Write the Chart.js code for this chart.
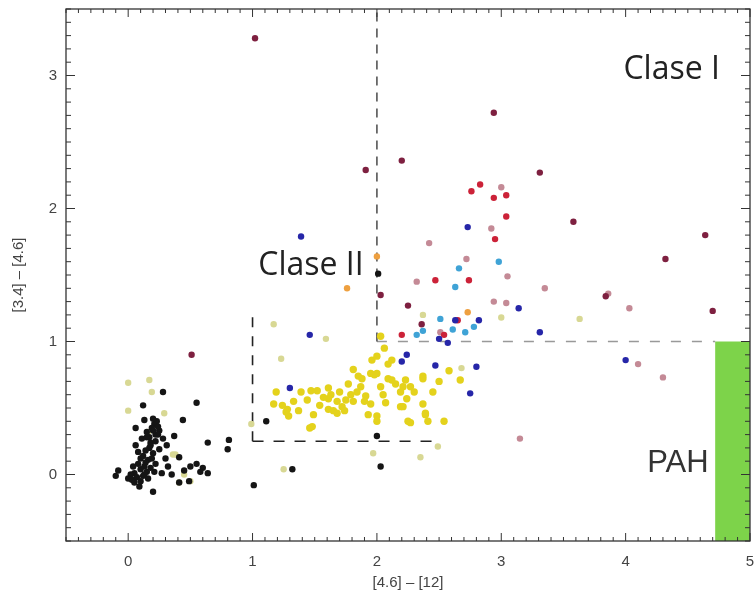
<!DOCTYPE html>
<html>
<head>
<meta charset="utf-8">
<script src="https://cdn.jsdelivr.net/npm/chart.js@4.4.1/dist/chart.umd.min.js"></script>
<style>
  html, body { margin: 0; padding: 0; background: #fff; }
</style>
</head>
<body>
<canvas id="myChart" width="754" height="601"></canvas>
<script>
// data: [4.6]-[12] , [3.4]-[4.6]
const blackStars = [
  [0.28,0.62],[0.12,0.52],[0.55,0.54],[0.44,0.41],[0.13,0.41],[0.06,0.35],[0.21,0.38],[0.25,0.33],
  [0.37,0.29],[0.64,0.24],[0.81,0.26],[0.80,0.19],[0.06,0.22],[0.18,0.24],[0.22,0.30],[0.19,0.35],
  [0.23,0.40],[0.17,0.28],[0.28,0.27],[0.31,0.22],[0.14,0.18],[0.10,0.12],[0.16,0.11],[0.12,0.14],
  [0.20,0.16],[0.08,0.08],[0.13,0.06],[0.18,0.05],[0.22,0.08],[-0.10,-0.01],[-0.08,0.03],[0.05,0.01],
  [0.07,-0.02],[0.10,0.04],[0.02,0.00],[0.00,-0.03],[0.12,-0.01],[0.15,0.02],[0.05,-0.06],[0.09,-0.09],
  [0.03,-0.04],[0.20,-0.13],[0.32,0.06],[0.41,0.13],[0.50,0.06],[0.55,0.08],[0.60,0.05],[0.64,0.01],
  [0.58,0.02],[0.49,-0.05],[0.41,-0.06],[0.35,0.00],[0.45,0.03],[0.27,0.01],[0.30,0.12],[0.25,0.19],
  [0.15,0.32],[0.20,0.42],[0.24,0.36],[0.11,0.27],[0.08,0.17],[0.04,0.06],[0.18,0.22],[1.01,-0.08],
  [1.32,0.04],[1.11,0.40],[2.00,0.29],[2.03,0.06],[2.01,1.51],
  [0.15,0.28],[0.17,0.20],[0.19,0.12],[0.14,0.09],[0.21,0.02],[0.16,-0.03],[0.10,-0.05],[0.24,0.30],
  [0.20,0.33],[0.22,0.25],[0.13,0.00]
];
const yellowStars = [
  [1.19,0.62],[1.17,0.53],[1.28,0.49],[1.29,0.44],[1.37,0.48],[1.47,0.63],[1.52,0.63],[1.49,0.45],
  [1.48,0.36],[1.46,0.35],[1.61,0.65],[1.63,0.60],[1.61,0.49],[1.68,0.55],[1.65,0.48],[1.72,0.51],
  [1.77,0.68],[1.81,0.79],[1.85,0.74],[1.87,0.66],[1.79,0.60],[1.81,0.55],[1.91,0.59],[1.95,0.76],
  [1.96,0.86],[2.00,0.89],[1.98,0.75],[2.03,0.66],[2.05,0.60],[2.09,0.72],[2.00,0.44],[2.07,0.54],
  [2.15,0.68],[2.19,0.62],[2.23,0.71],[2.27,0.66],[2.24,0.57],[2.19,0.51],[1.74,0.48],[1.68,0.46],
  [1.54,0.52],[1.39,0.62],[1.24,0.52],[1.27,0.47],[2.00,0.40],[2.25,0.40],[2.37,0.53],[2.39,0.45],
  [2.30,0.62],[1.90,0.55],[1.95,0.53],[1.75,0.56],[1.61,0.57],[2.37,0.74],[2.12,0.86],[2.09,0.83],
  [2.03,1.04],[2.67,0.71],[2.37,0.72],[2.39,0.46],[2.27,0.39],[2.41,0.40],[2.54,0.40],[2.21,0.51],
  [2.21,0.66],[2.12,0.71],[2.00,0.76],[1.84,0.62],[1.70,0.62],[1.57,0.58],[1.88,0.72],[2.45,0.62],
  [2.50,0.70],[2.58,0.78],[1.44,0.56],[1.33,0.55],[2.06,0.95],[1.93,0.45]
];
const paleStars = [
  [1.17,1.13],[1.59,1.02],[1.23,0.87],[2.37,1.20],[3.00,1.18],[3.63,1.17],[0.00,0.69],[0.17,0.71],
  [0.00,0.48],[0.19,0.62],[0.29,0.46],[1.25,0.04],[0.99,0.38],[1.97,0.16],[2.35,0.13],[2.49,0.21],
  [0.36,0.15],[0.41,-0.06],[0.45,0.00],[0.16,0.32],[0.50,-0.05],[0.38,0.15],[2.68,0.80]
];
const redStars = [
  [2.76,2.13],[2.83,2.18],[3.04,2.10],[2.94,2.08],[3.04,1.94],[2.95,1.77],[2.47,1.46],[2.74,1.46],
  [2.20,1.05],[2.54,1.05],[2.65,1.16]
];
const darkRedStars = [
  [1.02,3.28],[1.91,2.29],[2.20,2.36],[3.31,2.27],[2.94,2.72],[3.58,1.90],[4.64,1.80],[4.32,1.62],
  [4.70,1.23],[2.03,1.35],[2.25,1.27],[2.36,1.13],[0.51,0.90],[3.84,1.34]
];
const pinkStars = [
  [3.00,2.16],[2.92,1.85],[2.42,1.74],[2.72,1.62],[3.05,1.49],[2.32,1.45],[3.35,1.40],[2.94,1.30],
  [3.04,1.29],[4.03,1.25],[4.10,0.83],[4.30,0.73],[3.15,0.27],[2.51,1.07],[3.86,1.36]
];
const blueStars = [
  [1.39,1.79],[2.73,1.86],[1.46,1.05],[1.30,0.65],[2.24,0.90],[2.20,0.85],[2.47,0.82],[2.80,0.81],
  [2.75,0.61],[3.14,1.25],[2.63,1.16],[2.82,1.16],[3.31,1.07],[2.57,0.99],[4.00,0.86],[2.50,1.02]
];
const cyanStars = [
  [2.66,1.55],[2.98,1.60],[2.63,1.41],[2.51,1.17],[2.78,1.11],[2.32,1.05],[2.37,1.08],[2.71,1.07],[2.61,1.09]
];
const orangeStars = [[1.76,1.40],[2.00,1.64],[2.73,1.22]];

// criteria lines (Koenig)
const classOneVertical = [[2, 1], [2, 3.5]];
const classOneHorizontal = [[2, 1], [4.72, 1]];
const classTwoVertical = [[1, 0.25], [1, 1.2]];
const classTwoHorizontal = [[1, 0.25], [2.5, 0.25]];
const pahRegion = [[4.72, -0.5], [5, 1]];

const xTickValues = [0, 1, 2, 3, 4, 5];
const yTickValues = [0, 1, 2, 3];

const regionLabels = [
  { text: 'Clase I', x: 4.37, y: 2.97 },
  { text: 'Clase II', x: 1.47, y: 1.50 },
  { text: 'PAH', x: 4.42, y: 0.02 }
];

function toPoints(arr) {
  return arr.map(p => ({ x: p[0], y: p[1] }));
}

function stars(label, arr, color, radius) {
  return {
    label: label,
    data: toPoints(arr),
    backgroundColor: color,
    borderWidth: 0,
    pointRadius: radius || 3.2
  };
}

function dashed(label, arr, color, dash) {
  return {
    label: label,
    data: toPoints(arr),
    showLine: true,
    borderColor: color,
    borderWidth: 1.6,
    borderDash: dash,
    pointRadius: 0
  };
}

const chartData = {
  datasets: [
    stars('black', blackStars, '#151515'),
    stars('blue', blueStars, '#2626a8'),
    stars('cyan', cyanStars, '#3fa3d6'),
    stars('orange', orangeStars, '#eea040'),
    stars('darkred', darkRedStars, '#7e2040'),
    stars('red', redStars, '#cc2238'),
    stars('pink', pinkStars, '#c48a96'),
    stars('yellow', yellowStars, '#e4d21c', 3.7),
    stars('pale', paleStars, '#d8d894'),
    dashed('c1v', classOneVertical, '#555', [9, 7]),
    dashed('c1h', classOneHorizontal, '#999', [10, 11]),
    dashed('c2v', classTwoVertical, '#222', [10, 9]),
    dashed('c2h', classTwoHorizontal, '#222', [11, 10])
  ]
};

// green PAH box, drawn under the points
const pahPlugin = {
  id: 'pahBox',
  beforeDatasetsDraw(chart) {
    const ctx = chart.ctx;
    const xs = chart.scales.x, ys = chart.scales.y;
    const x0 = xs.getPixelForValue(pahRegion[0][0]);
    const x1 = xs.getPixelForValue(pahRegion[1][0]);
    const y0 = ys.getPixelForValue(pahRegion[0][1]);
    const y1 = ys.getPixelForValue(pahRegion[1][1]);
    ctx.save();
    ctx.fillStyle = '#7dd34a';
    ctx.fillRect(x0, y1, x1 - x0, y0 - y1);
    ctx.restore();
  }
};

// frame with inward ticks on all four sides + region labels
const framePlugin = {
  id: 'frame',
  afterDraw(chart) {
    const ctx = chart.ctx;
    const a = chart.chartArea;
    const xs = chart.scales.x, ys = chart.scales.y;
    ctx.save();
    ctx.strokeStyle = '#333';
    ctx.lineWidth = 1.3;
    ctx.strokeRect(a.left, a.top, a.right - a.left, a.bottom - a.top);
    ctx.lineWidth = 1;
    ctx.beginPath();
    for (let i = -5; i <= 50; i++) {
      const px = xs.getPixelForValue(i / 10);
      const len = i % 10 === 0 ? 8 : 4;
      ctx.moveTo(px, a.bottom); ctx.lineTo(px, a.bottom - len);
      ctx.moveTo(px, a.top); ctx.lineTo(px, a.top + len);
    }
    for (let i = -5; i <= 35; i++) {
      const py = ys.getPixelForValue(i / 10);
      const len = i % 10 === 0 ? 9 : 5;
      ctx.moveTo(a.left, py); ctx.lineTo(a.left + len, py);
      ctx.moveTo(a.right, py); ctx.lineTo(a.right - len, py);
    }
    ctx.stroke();

    ctx.textAlign = 'center';
    ctx.textBaseline = 'alphabetic';
    regionLabels.forEach(l => {
      if (l.text === 'PAH') {
        ctx.font = '31px "Liberation Sans", Arial, sans-serif';
        ctx.fillStyle = '#333';
      } else {
        ctx.font = '32px "Open Sans", sans-serif';
        ctx.fillStyle = '#222';
      }
      ctx.fillText(l.text, xs.getPixelForValue(l.x), ys.getPixelForValue(l.y));
    });
    ctx.restore();
  }
};

const tickFont = { family: '"Liberation Sans", Arial, sans-serif', size: 15 };

const config = {
  type: 'scatter',
  data: chartData,
  options: {
    responsive: false,
    animation: false,
    layout: { padding: { top: 9, right: 3, left: 0, bottom: 0 } },
    plugins: {
      legend: { display: false },
      tooltip: { enabled: false }
    },
    scales: {
      x: {
        type: 'linear',
        min: -0.5,
        max: 5,
        grid: { display: false, drawTicks: false },
        border: { display: false },
        ticks: { color: '#444', font: tickFont, padding: 12, maxRotation: 0 },
        afterBuildTicks: (scale) => { scale.ticks = xTickValues.map(v => ({ value: v })); },
        afterFit: (scale) => { scale.height = 60; scale.paddingLeft = 0; scale.paddingRight = 0; },
        title: {
          display: true,
          text: '[4.6] – [12]',
          color: '#444',
          font: tickFont,
          padding: { top: 0, bottom: 9 }
        }
      },
      y: {
        type: 'linear',
        min: -0.5,
        max: 3.5,
        grid: { display: false, drawTicks: false },
        border: { display: false },
        ticks: { color: '#444', font: tickFont, padding: 9 },
        afterBuildTicks: (scale) => { scale.ticks = yTickValues.map(v => ({ value: v })); },
        afterFit: (scale) => { scale.width = 66; scale.paddingTop = 0; scale.paddingBottom = 0; },
        title: {
          display: true,
          text: '[3.4] – [4.6]',
          color: '#444',
          font: tickFont,
          padding: { top: 10, bottom: 0 }
        }
      }
    }
  },
  plugins: [pahPlugin, framePlugin]
};

let chart;
function createChart() {
  const ctx = document.getElementById('myChart').getContext('2d');
  if (chart) chart.destroy();
  chart = new Chart(ctx, config);
}
createChart();
</script>
</body>
</html>
